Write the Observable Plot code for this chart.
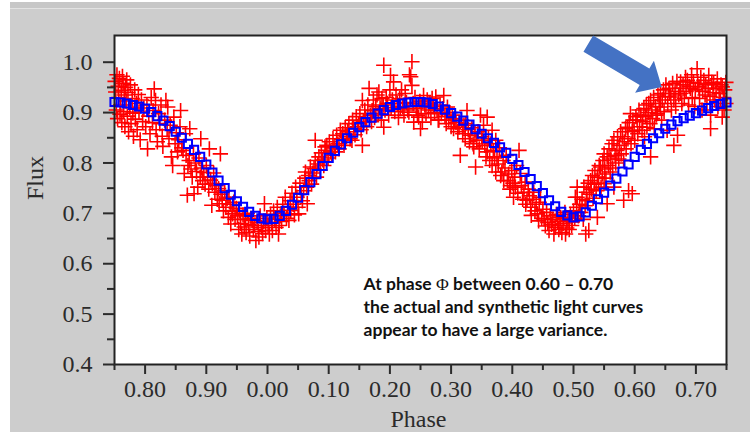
<!DOCTYPE html>
<html><head><meta charset="utf-8">
<script src="https://cdn.jsdelivr.net/npm/d3@7"></script>
<script src="https://cdn.jsdelivr.net/npm/@observablehq/plot@0.6"></script>
<style>
html,body{margin:0;padding:0;background:#fff;width:750px;height:432px;overflow:hidden;}
#bg{position:absolute;left:10px;top:2px;width:740px;height:430px;background:#cdcdcd;}
#bg .band{position:absolute;left:0;top:0;width:100%;height:6px;background:#c7c7c7;border-bottom:1px solid #e2e2e2;}
#chart{position:absolute;left:0;top:0;}
</style></head><body>
<div id="bg"><div class="band"></div></div>
<div id="chart"></div>
<script>
// ---- Data ----
const xMajorTicks = [0.8, 0.9, 1.0, 1.1, 1.2, 1.3, 1.4, 1.5, 1.6, 1.7];
const xMinorTicks = [0.75, 0.85, 0.95, 1.05, 1.15, 1.25, 1.35, 1.45, 1.55, 1.65, 1.75];
const yMajorTicks = [0.4, 0.5, 0.6, 0.7, 0.8, 0.9, 1.0];
const yMinorTicks = [0.45, 0.55, 0.65, 0.75, 0.85, 0.95];

// synthetic light curve (blue squares)
const synthPhase = [0.75,0.76,0.77,0.78,0.79,0.80,0.81,0.82,0.83,0.84,0.85,0.86,0.87,0.88,0.89,0.90,0.91,0.92,0.93,0.94,0.95,0.96,0.97,0.98,0.99,
1.00,1.01,1.02,1.03,1.04,1.05,1.06,1.07,1.08,1.09,1.10,1.11,1.12,1.13,1.14,1.15,1.16,1.17,1.18,1.19,1.20,1.21,1.22,1.23,1.24,
1.25,1.26,1.27,1.28,1.29,1.30,1.31,1.32,1.33,1.34,1.35,1.36,1.37,1.38,1.39,1.40,1.41,1.42,1.43,1.44,1.45,1.46,1.47,1.48,1.49,
1.50,1.51,1.52,1.53,1.54,1.55,1.56,1.57,1.58,1.59,1.60,1.61,1.62,1.63,1.64,1.65,1.66,1.67,1.68,1.69,1.70,1.71,1.72,1.73,1.74,1.75];
const synthFlux = [0.921,0.920,0.918,0.915,0.912,0.908,0.901,0.893,0.884,0.873,0.862,0.850,0.838,0.826,0.812,0.797,0.781,0.765,0.750,0.737,0.724,0.713,0.703,0.695,0.690,
0.688,0.689,0.695,0.705,0.717,0.731,0.746,0.762,0.778,0.794,0.810,0.824,0.837,0.849,0.860,0.871,0.881,0.890,0.898,0.905,0.911,0.915,0.918,0.920,0.921,
0.921,0.920,0.917,0.912,0.906,0.899,0.892,0.884,0.876,0.867,0.858,0.849,0.840,0.831,0.820,0.808,0.796,0.782,0.768,0.754,0.740,0.726,0.714,0.703,0.696,
0.692,0.694,0.702,0.715,0.728,0.741,0.755,0.769,0.783,0.797,0.812,0.826,0.838,0.849,0.859,0.868,0.876,0.883,0.889,0.894,0.899,0.904,0.909,0.913,0.917,0.920];

// observed light curve (red plus signs): [phase, flux]
const observed = [
[0.751,0.962],[0.752,0.941],[0.753,0.905],[0.754,0.975],[0.755,0.888],[0.756,0.952],[0.757,0.930],[0.758,0.968],[0.759,0.897],[0.760,0.915],[0.761,0.944],[0.762,0.880],[0.763,0.972],[0.764,0.958],[0.765,0.902],[0.766,0.935],[0.767,0.872],[0.768,0.950],[0.769,0.923],[0.770,0.965],
[0.771,0.893],[0.772,0.940],[0.773,0.862],[0.775,0.910],[0.776,0.955],[0.777,0.878],[0.779,0.928],[0.780,0.899],[0.781,0.853],[0.783,0.945],[0.784,0.887],[0.786,0.918],[0.787,0.866],[0.789,0.936],[0.790,0.901],[0.792,0.846],[0.794,0.925],[0.796,0.882],[0.798,0.909],
[0.801,0.872],[0.803,0.915],[0.804,0.828],[0.806,0.893],[0.808,0.858],[0.810,0.930],[0.812,0.880],[0.813,0.904],[0.815,0.947],[0.817,0.924],[0.818,0.866],[0.820,0.842],[0.822,0.898],[0.824,0.878],[0.826,0.915],[0.828,0.853],[0.829,0.833],
[0.832,0.885],[0.834,0.924],[0.836,0.866],[0.837,0.911],[0.839,0.848],[0.841,0.875],[0.843,0.812],[0.845,0.795],[0.847,0.891],[0.849,0.838],[0.851,0.860],[0.853,0.822],[0.855,0.846],[0.857,0.872],[0.858,0.904],[0.860,0.830],
[0.862,0.825],[0.864,0.779],[0.866,0.858],[0.867,0.815],[0.869,0.736],[0.870,0.795],[0.872,0.805],[0.873,0.868],[0.875,0.788],[0.877,0.772],[0.879,0.818],[0.880,0.739],[0.882,0.800],[0.884,0.783],[0.886,0.752],[0.888,0.810],[0.890,0.772],
[0.891,0.848],[0.892,0.790],[0.894,0.765],[0.896,0.781],[0.898,0.758],[0.900,0.795],[0.902,0.772],[0.904,0.748],[0.905,0.828],[0.907,0.766],[0.909,0.716],[0.910,0.759],[0.912,0.780],[0.914,0.742],[0.916,0.755],[0.918,0.728],[0.920,0.749],
[0.921,0.719],[0.923,0.818],[0.924,0.738],[0.926,0.726],[0.928,0.705],[0.930,0.745],[0.932,0.712],[0.934,0.730],[0.936,0.692],[0.937,0.732],[0.939,0.718],[0.940,0.679],[0.942,0.704],[0.943,0.699],[0.945,0.722],[0.947,0.688],[0.949,0.710],
[0.951,0.695],[0.953,0.668],[0.954,0.706],[0.956,0.680],[0.958,0.659],[0.960,0.697],[0.962,0.673],[0.964,0.688],[0.965,0.662],[0.967,0.700],[0.969,0.678],[0.971,0.655],[0.973,0.690],[0.975,0.686],[0.977,0.668],[0.979,0.676],
[0.981,0.646],[0.983,0.682],[0.985,0.664],[0.986,0.653],[0.988,0.695],[0.990,0.672],[0.992,0.660],[0.994,0.684],[0.995,0.719],[0.997,0.666],[0.999,0.690],[1.001,0.676],[1.003,0.659],[1.005,0.698],[1.007,0.682],[1.008,0.666],[1.010,0.705],
[1.012,0.688],[1.014,0.672],[1.016,0.712],[1.018,0.659],[1.019,0.676],[1.021,0.695],[1.023,0.684],[1.025,0.718],[1.027,0.700],[1.029,0.732],[1.031,0.690],[1.033,0.712],[1.035,0.686],[1.037,0.725],[1.038,0.706],
[1.040,0.740],[1.042,0.718],[1.044,0.697],[1.046,0.752],[1.048,0.732],[1.050,0.712],[1.051,0.699],[1.053,0.760],[1.055,0.738],[1.057,0.725],[1.059,0.745],[1.061,0.770],[1.062,0.782],[1.064,0.752],[1.065,0.719],[1.067,0.775],[1.068,0.765],
[1.070,0.792],[1.072,0.758],[1.074,0.780],[1.076,0.789],[1.078,0.805],[1.078,0.845],[1.080,0.772],[1.082,0.798],[1.084,0.812],[1.086,0.786],[1.088,0.820],[1.090,0.806],[1.092,0.795],[1.094,0.832],[1.095,0.825],[1.097,0.835],[1.099,0.810],
[1.101,0.842],[1.103,0.822],[1.105,0.815],[1.107,0.848],[1.109,0.830],[1.111,0.822],[1.113,0.855],[1.115,0.838],[1.117,0.828],[1.119,0.865],[1.121,0.846],[1.123,0.858],[1.125,0.835],[1.127,0.870],[1.129,0.852],
[1.131,0.862],[1.133,0.878],[1.135,0.848],[1.138,0.845],[1.139,0.885],[1.141,0.868],[1.143,0.856],[1.145,0.892],[1.147,0.872],[1.149,0.878],[1.151,0.898],[1.153,0.866],[1.155,0.835],[1.155,0.924],[1.157,0.882],[1.159,0.905],
[1.160,0.888],[1.162,0.872],[1.164,0.915],[1.166,0.948],[1.168,0.895],[1.170,0.882],[1.171,0.904],[1.173,0.925],[1.175,0.890],[1.177,0.912],[1.179,0.935],[1.181,0.898],[1.182,0.941],[1.184,0.908],[1.186,0.885],[1.187,0.928],[1.189,0.915],
[1.190,0.994],[1.190,0.871],[1.192,0.905],[1.194,0.930],[1.196,0.918],[1.198,0.895],[1.200,0.945],[1.201,0.974],[1.202,0.910],[1.204,0.925],[1.206,0.961],[1.208,0.902],[1.210,0.935],[1.212,0.918],[1.214,0.890],[1.216,0.928],[1.217,0.908],[1.219,0.945],
[1.221,0.912],[1.223,0.895],[1.225,0.938],[1.227,0.920],[1.229,0.905],[1.231,0.901],[1.232,0.975],[1.234,0.971],[1.236,1.001],[1.236,0.954],[1.238,0.918],[1.239,0.881],[1.241,0.930],[1.243,0.908],[1.245,0.895],[1.247,0.891],[1.249,0.922],
[1.250,0.868],[1.251,0.911],[1.253,0.881],[1.255,0.934],[1.257,0.915],[1.259,0.898],[1.261,0.925],[1.263,0.905],[1.265,0.918],[1.267,0.890],[1.269,0.928],[1.271,0.912],[1.273,0.900],[1.275,0.931],[1.277,0.905],[1.279,0.885],
[1.280,0.885],[1.282,0.915],[1.284,0.898],[1.286,0.908],[1.288,0.934],[1.290,0.892],[1.292,0.878],[1.294,0.911],[1.296,0.885],[1.298,0.900],[1.300,0.872],[1.302,0.895],[1.304,0.868],[1.306,0.888],[1.308,0.880],
[1.311,0.862],[1.313,0.871],[1.315,0.815],[1.317,0.885],[1.319,0.858],[1.321,0.875],[1.323,0.848],[1.324,0.878],[1.326,0.904],[1.328,0.866],[1.330,0.842],[1.332,0.855],[1.334,0.870],[1.336,0.838],[1.337,0.832],[1.339,0.858],
[1.340,0.792],[1.342,0.845],[1.344,0.862],[1.346,0.828],[1.348,0.895],[1.350,0.852],[1.351,0.845],[1.353,0.875],[1.355,0.835],[1.357,0.812],[1.359,0.891],[1.359,0.822],[1.361,0.848],[1.363,0.805],[1.365,0.838],[1.367,0.865],[1.367,0.795],[1.369,0.825],
[1.371,0.810],[1.373,0.845],[1.373,0.782],[1.375,0.812],[1.377,0.798],[1.379,0.830],[1.381,0.775],[1.383,0.782],[1.385,0.805],[1.386,0.765],[1.388,0.790],[1.390,0.815],[1.392,0.765],[1.394,0.778],[1.396,0.748],[1.397,0.755],[1.399,0.785],
[1.401,0.760],[1.402,0.732],[1.404,0.772],[1.405,0.752],[1.407,0.795],[1.409,0.740],[1.411,0.825],[1.413,0.779],[1.415,0.755],[1.417,0.728],[1.419,0.742],[1.421,0.762],[1.422,0.718],[1.424,0.726],[1.426,0.748],[1.428,0.735],[1.430,0.712],
[1.431,0.696],[1.433,0.728],[1.435,0.742],[1.437,0.705],[1.439,0.718],[1.441,0.699],[1.443,0.685],[1.444,0.722],[1.446,0.732],[1.448,0.690],[1.450,0.708],[1.452,0.689],[1.454,0.675],[1.456,0.702],[1.458,0.682],[1.460,0.666],
[1.462,0.695],[1.464,0.678],[1.466,0.688],[1.468,0.659],[1.470,0.672],[1.472,0.698],[1.474,0.684],[1.476,0.668],[1.478,0.676],[1.479,0.692],[1.481,0.662],[1.483,0.680],[1.484,0.689],[1.486,0.702],[1.487,0.659],[1.489,0.671],
[1.491,0.685],[1.493,0.668],[1.495,0.698],[1.497,0.676],[1.498,0.683],[1.500,0.705],[1.502,0.690],[1.503,0.732],[1.505,0.712],[1.506,0.752],[1.506,0.732],[1.508,0.695],[1.510,0.718],[1.512,0.702],[1.514,0.728],[1.516,0.688],[1.517,0.752],[1.519,0.715],[1.520,0.659],
[1.521,0.742],[1.522,0.725],[1.524,0.760],[1.525,0.666],[1.526,0.738],[1.528,0.765],[1.529,0.748],[1.531,0.775],[1.532,0.730],[1.534,0.758],[1.535,0.785],[1.537,0.745],[1.539,0.772],[1.539,0.692],[1.541,0.760],[1.542,0.795],[1.544,0.792],[1.545,0.752],[1.547,0.778],[1.548,0.805],[1.550,0.759],[1.550,0.818],
[1.551,0.788],[1.553,0.770],[1.555,0.812],[1.555,0.719],[1.557,0.795],[1.558,0.828],[1.560,0.782],[1.561,0.808],[1.563,0.838],[1.564,0.790],[1.566,0.845],[1.566,0.752],[1.568,0.815],[1.569,0.800],[1.571,0.825],[1.572,0.852],[1.574,0.808],[1.575,0.835],[1.577,0.862],[1.578,0.818],[1.580,0.852],
[1.582,0.805],[1.582,0.726],[1.583,0.842],[1.585,0.868],[1.586,0.828],[1.588,0.871],[1.589,0.848],[1.590,0.745],[1.591,0.880],[1.593,0.898],[1.594,0.838],[1.596,0.739],[1.596,0.862],[1.597,0.885],[1.599,0.865],[1.600,0.845],[1.602,0.892],[1.604,0.885],[1.605,0.858],[1.607,0.905],[1.608,0.872],[1.610,0.895],
[1.612,0.865],[1.613,0.882],[1.615,0.908],[1.616,0.852],[1.618,0.892],[1.619,0.915],[1.620,0.871],[1.622,0.900],[1.623,0.918],[1.625,0.878],[1.626,0.924],[1.626,0.812],[1.628,0.905],[1.629,0.888],[1.631,0.930],[1.632,0.868],[1.634,0.912],[1.635,0.895],[1.637,0.898],[1.638,0.935],[1.640,0.918],
[1.642,0.911],[1.642,0.938],[1.644,0.885],[1.645,0.925],[1.647,0.945],[1.648,0.902],[1.650,0.932],[1.651,0.955],[1.653,0.865],[1.654,0.918],[1.656,0.948],[1.657,0.938],[1.659,0.931],[1.660,0.905],[1.662,0.958],[1.664,0.835],[1.664,0.925],[1.666,0.942],[1.667,0.912],[1.669,0.962],[1.670,0.855],
[1.672,0.935],[1.674,0.948],[1.675,0.961],[1.675,0.938],[1.677,0.918],[1.679,0.955],[1.681,0.928],[1.683,0.970],[1.684,0.942],[1.686,0.964],[1.688,0.915],[1.689,0.952],[1.691,0.948],[1.693,0.975],[1.694,0.930],[1.696,0.960],[1.698,0.912],[1.699,0.945],
[1.702,0.987],[1.703,0.958],[1.705,0.951],[1.706,0.928],[1.708,0.970],[1.710,0.905],[1.711,0.942],[1.713,0.964],[1.715,0.935],[1.716,0.955],[1.718,0.918],[1.720,0.948],[1.721,0.974],[1.723,0.932],[1.724,0.895],[1.724,0.868],[1.726,0.960],[1.728,0.940],[1.729,0.958],
[1.731,0.925],[1.733,0.948],[1.735,0.967],[1.736,0.912],[1.738,0.938],[1.740,0.925],[1.741,0.955],[1.743,0.951],[1.743,0.891],[1.745,0.930],[1.746,0.905],[1.747,0.945],[1.749,0.918],[1.749,0.960]
];

// annotation
const annotationLines = [
  "At phase Φ between 0.60 – 0.70",
  "the actual and synthetic light curves",
  "appear to have a large variance."
];
const annotationAt = [1.157, 0.580];   // [phase, flux] of the text's top-left
const arrowFrom = [1.525, 1.036];      // [phase, flux] arrow tail
const arrowTo = [1.645, 0.950];        // [phase, flux] arrow tip

// ---- Styles ----
const tickColor = "#2b2b2b";
const serif = "Liberation Serif, 'Times New Roman', serif";

function blockArrow(index, scales) {
  const x0 = scales.x(arrowFrom[0]), y0 = scales.y(arrowFrom[1]);
  const x1 = scales.x(arrowTo[0]), y1 = scales.y(arrowTo[1]);
  const dx = x1 - x0, dy = y1 - y0, L = Math.hypot(dx, dy);
  const ux = dx / L, uy = dy / L, nx = -uy, ny = ux;
  const sw = 19 / 2, hw = 37 / 2, hl = 20;
  const bx = x1 - ux * hl, by = y1 - uy * hl;
  const pts = [
    [x0 + nx * sw, y0 + ny * sw], [bx + nx * sw, by + ny * sw], [bx + nx * hw, by + ny * hw],
    [x1, y1],
    [bx - nx * hw, by - ny * hw], [bx - nx * sw, by - ny * sw], [x0 - nx * sw, y0 - ny * sw]
  ];
  return d3.create("svg:polygon")
    .attr("points", pts.map(p => p.join(",")).join(" "))
    .attr("fill", "#4472c4")
    .node();
}

const chart = Plot.plot({
  width: 750,
  height: 432,
  marginLeft: 114,
  marginRight: 24,
  marginTop: 35,
  marginBottom: 68,
  style: {background: "transparent", fontFamily: serif, fontSize: "24px", color: tickColor},
  x: {domain: [0.75, 1.75]},
  y: {domain: [0.4, 1.053]},
  marks: [
    Plot.frame({fill: "white", stroke: "none"}),
    Plot.dot(observed, {x: d => d[0], y: d => d[1], symbol: "plus", stroke: "#ff0000", r: 5, strokeWidth: 1.6}),
    Plot.dot(synthPhase, {x: d => d, y: (d, i) => synthFlux[i], symbol: "square", stroke: "#0000ff", fill: "none", r: 4.6, strokeWidth: 2}),
    Plot.frame({stroke: "#222", strokeWidth: 2}),
    Plot.axisX(xMajorTicks, {tickSize: 10, tickPadding: 5, strokeWidth: 2, stroke: tickColor, label: null,
      tickFormat: d => (d >= 1 ? d - 1 : d).toFixed(2), fontSize: 24}),
    Plot.axisX(xMinorTicks, {tickSize: 6, strokeWidth: 2, stroke: tickColor, label: null, tickFormat: () => ""}),
    Plot.axisY(yMajorTicks, {tickSize: 11, tickPadding: 11, strokeWidth: 2, stroke: tickColor, label: null,
      tickFormat: d => d.toFixed(1), fontSize: 24}),
    Plot.axisY(yMinorTicks, {tickSize: 7, strokeWidth: 2, stroke: tickColor, label: null, tickFormat: () => ""}),
    Plot.text(["Phase"], {frameAnchor: "bottom", text: d => d, dy: 62, dx: -2, fontSize: 24, fill: tickColor}),
    Plot.text(["Flux"], {frameAnchor: "left", text: d => d, rotate: -90, dx: -79, fontSize: 24, fill: tickColor}),
    Plot.text([annotationLines.join("\n")], {
      x: () => annotationAt[0], y: () => annotationAt[1], text: d => d,
      textAnchor: "start", lineAnchor: "top", lineHeight: 1.32,
      fontFamily: "Lato, 'Open Sans', sans-serif", fontWeight: "bold", fontSize: 17.5, fill: "#111"
    }),
    blockArrow
  ]
});

// render Φ in a serif, regular face like the reference
for (const el of chart.querySelectorAll("text, tspan")) {
  if (el.childNodes.length === 1 && el.firstChild.nodeType === 3 && el.textContent.includes("Φ")) {
    const [a, b] = el.textContent.split("Φ");
    el.textContent = "";
    el.append(document.createTextNode(a));
    const phi = document.createElementNS("http://www.w3.org/2000/svg", "tspan");
    phi.setAttribute("font-family", serif);
    phi.setAttribute("font-weight", "normal");
    phi.textContent = "Φ";
    el.append(phi);
    el.append(document.createTextNode(b));
  }
}
document.getElementById("chart").append(chart);
</script></body></html>
